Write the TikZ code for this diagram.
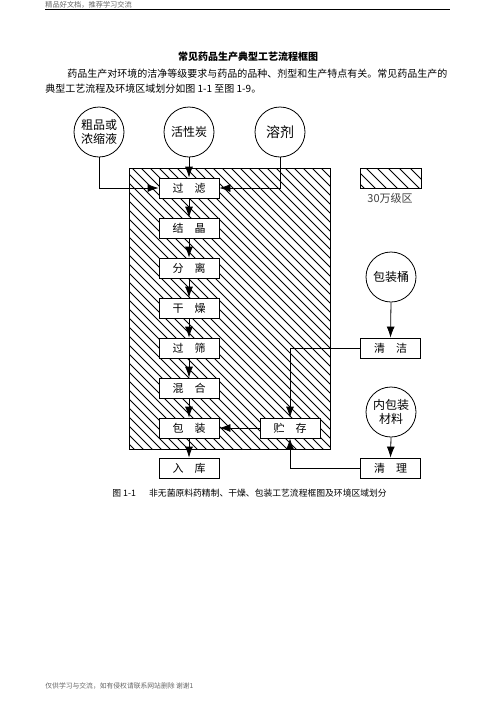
\documentclass[tikz,border=0pt]{standalone}
\usepackage{fontspec}
\newfontfamily\cjk{Noto Sans CJK SC}
\usetikzlibrary{arrows.meta}
\begin{document}
\begin{tikzpicture}[x=1pt,y=-1pt,
  line width=0.8pt,
  box/.style={draw,fill=white,minimum width=60pt,minimum height=20pt,inner sep=0pt,font=\cjk\fontsize{11}{11}\selectfont},
  circ/.style={circle,draw,minimum size=50pt,inner sep=0pt,align=center,font=\cjk\fontsize{12}{13.5}\selectfont},
  arr/.style={-{Latex[length=11pt,width=8pt]}},
  txt/.style={inner sep=0pt,font=\cjk},
  hatch/.style={line width=0.9pt}]
\useasboundingbox (0,0) rectangle (496,702);
\fill[white] (0,0) rectangle (496,702);
% header
\node[txt,anchor=west,text=black!60,font=\cjk\fontsize{7.2}{7.2}\selectfont] (hdr) at (45,4.5) {精品好文档，推荐学习交流};
\draw[line width=1.2pt] (45,9.5) coordinate (hl) -- (450,9.5) coordinate (hr);
% title and paragraph
\node[txt,font=\cjk\fontsize{10}{10}\selectfont\bfseries] (title) at (248,57) {常见药品生产典型工艺流程框图};
\node[txt,anchor=west,font=\cjk\fontsize{10}{10}\selectfont] (p1) at (67,74) {药品生产对环境的洁净等级要求与药品的品种、剂型和生产特点有关。常见药品生产的};
\node[txt,anchor=west,font=\cjk\fontsize{10}{10}\selectfont] (p2) at (45,89) {典型工艺流程及环境区域划分如图 1-1 至图 1-9。};
% hatched area
\begin{scope}
\clip (129,168) rectangle (330,449);
\foreach \i in {-300,-291,...,330} {\draw[hatch] (\i,168) -- ++(300,300);}
\end{scope}
\node[draw,minimum width=201pt,minimum height=281pt,inner sep=0pt] (area) at (229.5,308.5) {};
% legend
\begin{scope}
\clip (360,168) rectangle (421,188);
\foreach \i in {300,311,...,421} {\draw[hatch] (\i,168) -- ++(30,30);}
\end{scope}
\node[draw,minimum width=61pt,minimum height=20pt,inner sep=0pt] (leg) at (390.5,178) {};
\node[txt,text=black!75,font=\cjk\fontsize{11}{11}\selectfont] (legl) at (390,198) {30万级区};
% circles
\node[circ] (c1) at (99,132) {粗品或\\浓缩液};
\node[circ] (c2) at (189,132) {活性炭};
\node[circ,font=\cjk\fontsize{14}{14}\selectfont] (c3) at (280,132) {溶剂};
\node[circ] (c4) at (391,277) {包装桶};
\node[circ] (c5) at (391,412) {内包装\\材料};
% boxes
\node[box] (b1) at (189,188) {过\hspace{1em}滤};
\node[box] (b2) at (189,228) {结\hspace{1em}晶};
\node[box] (b3) at (189,268) {分\hspace{1em}离};
\node[box] (b4) at (189,308) {干\hspace{1em}燥};
\node[box] (b5) at (189,348) {过\hspace{1em}筛};
\node[box] (b6) at (189,388) {混\hspace{1em}合};
\node[box] (b7) at (189,428) {包\hspace{1em}装};
\node[box] (b8) at (189,468) {入\hspace{1em}库};
\node[box] (zc) at (290,428) {贮\hspace{1em}存};
\node[box] (qj) at (390.5,348) {清\hspace{1em}洁};
\node[box] (ql) at (390.5,468) {清\hspace{1em}理};
% connectors
\draw[arr] (c1.south) |- (b1.west);
\draw[arr] (c2.south) -- (b1.north);
\draw[arr] (c3.south) |- (b1.east);
\draw[arr] (b1) -- (b2);
\draw[arr] (b2) -- (b3);
\draw[arr] (b3) -- (b4);
\draw[arr] (b4) -- (b5);
\draw[arr] (b5) -- (b6);
\draw[arr] (b6) -- (b7);
\draw[arr] (b7) -- (b8);
\draw[arr] (zc) -- (b7);
\draw[arr] (qj.west) -| (zc.north);
\draw[arr] (ql.west) -| (zc.south);
\draw[arr] (c4.south) -- (qj.north);
\draw[arr] (c5.south) -- (ql.north);
% caption and footer
\node[txt,anchor=west,font=\cjk\fontsize{8.8}{8.8}\selectfont] (cap) at (112,493) {图 1-1\hspace{1.5em}非无菌原料药精制、干燥、包装工艺流程框图及环境区域划分};
\node[txt,anchor=west,text=black!60,font=\cjk\fontsize{6.8}{6.8}\selectfont] (ftr) at (45,685.5) {仅供学习与交流，如有侵权请联系网站删除 谢谢1};
\end{tikzpicture}
\end{document}
